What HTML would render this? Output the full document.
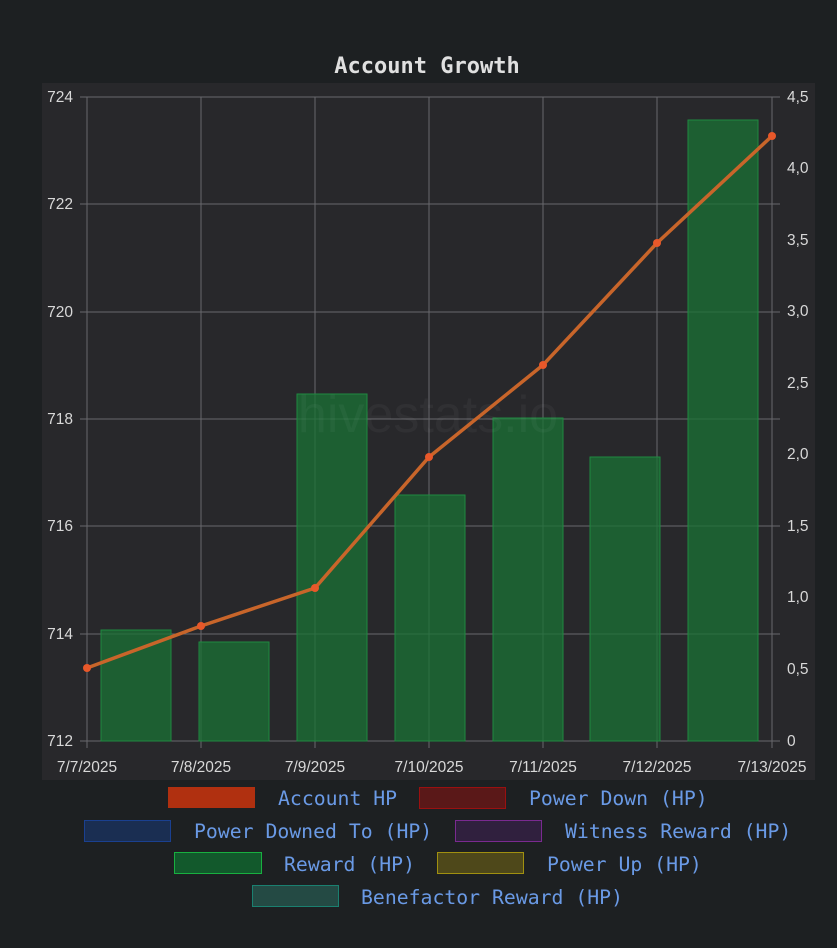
<!DOCTYPE html><html><head><style>body{margin:0;background:#1d2022;}svg{display:block}</style></head><body>
<svg width="837" height="948" xmlns="http://www.w3.org/2000/svg">
<rect width="837" height="948" fill="#1d2022"/>
<rect x="42" y="83" width="773" height="697" fill="#28282b"/>
<text x="427" y="73" fill="#e0e0e0" font-family="DejaVu Sans Mono, monospace" font-weight="bold" font-size="22" text-anchor="middle">Account Growth</text>
<g stroke="#68686c" stroke-width="1">
<line x1="80" y1="97" x2="780" y2="97"/><line x1="80" y1="204" x2="780" y2="204"/><line x1="80" y1="312" x2="780" y2="312"/><line x1="80" y1="419" x2="780" y2="419"/><line x1="80" y1="526" x2="780" y2="526"/><line x1="80" y1="634" x2="780" y2="634"/><line x1="80" y1="741" x2="780" y2="741"/>
<line x1="87" y1="97" x2="87" y2="748"/><line x1="201" y1="97" x2="201" y2="748"/><line x1="315" y1="97" x2="315" y2="748"/><line x1="429" y1="97" x2="429" y2="748"/><line x1="543" y1="97" x2="543" y2="748"/><line x1="657" y1="97" x2="657" y2="748"/><line x1="772" y1="97" x2="772" y2="748"/>
</g>
<g fill="#1a7236" fill-opacity="0.75" stroke="#1f8a40" stroke-width="1">
<rect x="101" y="630" width="70" height="111"/><rect x="199" y="642" width="70" height="99"/><rect x="297" y="394" width="70" height="347"/><rect x="395" y="495" width="70" height="246"/><rect x="493" y="418" width="70" height="323"/><rect x="590" y="457" width="70" height="284"/><rect x="688" y="120" width="70" height="621"/>
</g>
<text x="428" y="432" fill="#ffffff" fill-opacity="0.04" font-family="Liberation Sans, sans-serif" font-size="52" text-anchor="middle">hivestats.io</text>
<polyline points="87,668 201,626 315,588 429,457 543,365 657,243 772,136" fill="none" stroke="#c8652a" stroke-width="3.5"/>
<g fill="#e8582a"><circle cx="87" cy="668" r="4"/><circle cx="201" cy="626" r="4"/><circle cx="315" cy="588" r="4"/><circle cx="429" cy="457" r="4"/><circle cx="543" cy="365" r="4"/><circle cx="657" cy="243" r="4"/><circle cx="772" cy="136" r="4"/></g>
<g fill="#d8d8d8" font-family="Liberation Sans, sans-serif" font-size="15.5">
<g text-anchor="end"><text x="73" y="102">724</text><text x="73" y="209">722</text><text x="73" y="317">720</text><text x="73" y="424">718</text><text x="73" y="531">716</text><text x="73" y="639">714</text><text x="73" y="746">712</text></g>
<g><text x="787" y="102">4,5</text><text x="787" y="173">4,0</text><text x="787" y="245">3,5</text><text x="787" y="316">3,0</text><text x="787" y="388">2,5</text><text x="787" y="459">2,0</text><text x="787" y="531">1,5</text><text x="787" y="602">1,0</text><text x="787" y="674">0,5</text><text x="787" y="746">0</text></g>
<g text-anchor="middle"><text x="87" y="772">7/7/2025</text><text x="201" y="772">7/8/2025</text><text x="315" y="772">7/9/2025</text><text x="429" y="772">7/10/2025</text><text x="543" y="772">7/11/2025</text><text x="657" y="772">7/12/2025</text><text x="772" y="772">7/13/2025</text></g>
</g>
<g font-family="DejaVu Sans Mono, monospace" font-size="19.8" fill="#6a9ae6">
<rect x="168" y="787" width="87" height="21" fill="#b03010"/><text x="278" y="805">Account HP</text>
<rect x="419.5" y="787.5" width="86" height="21" fill="#5a1818" stroke="#9a1010"/><text x="529" y="805">Power Down (HP)</text>
<rect x="84.5" y="820.5" width="86" height="21" fill="#1a2e52" stroke="#1a4090"/><text x="194" y="838">Power Downed To (HP)</text>
<rect x="455.5" y="820.5" width="86" height="21" fill="#30203e" stroke="#7a2a90"/><text x="565" y="838">Witness Reward (HP)</text>
<rect x="174.5" y="852.5" width="87" height="21" fill="#12592c" stroke="#18b040"/><text x="284" y="871">Reward (HP)</text>
<rect x="437.5" y="852.5" width="86" height="21" fill="#4e481a" stroke="#a09010"/><text x="547" y="871">Power Up (HP)</text>
<rect x="252.5" y="885.5" width="86" height="21" fill="#244a44" stroke="#1a8070"/><text x="361" y="904">Benefactor Reward (HP)</text>
</g>
</svg></body></html>
